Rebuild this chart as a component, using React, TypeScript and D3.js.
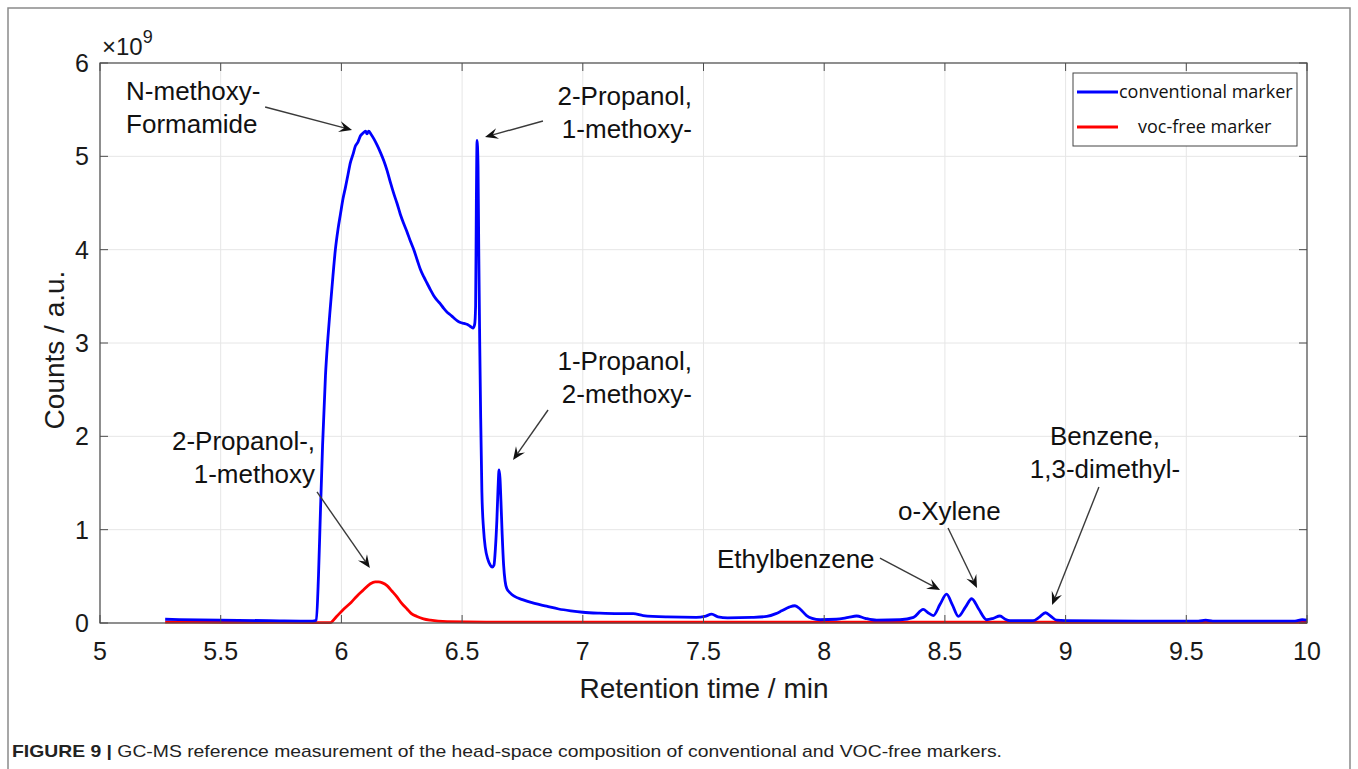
import React from "react";
import * as d3 from "d3";

// retention time (min) and counts (x1e9)
const conventionalTime = [
  5.27, 5.5, 5.7, 5.88, 5.896, 5.905, 5.913, 5.922, 5.934, 5.944, 5.954, 5.965, 5.975, 5.986, 5.996,
  6.007, 6.017, 6.027, 6.037, 6.048, 6.058, 6.068, 6.079, 6.09, 6.1, 6.106, 6.113, 6.122, 6.134, 6.148,
  6.162, 6.176, 6.189, 6.203, 6.217, 6.23, 6.244, 6.258, 6.272, 6.286, 6.3, 6.314, 6.327, 6.341, 6.355,
  6.369, 6.382, 6.396, 6.41, 6.424, 6.438, 6.452, 6.465, 6.479, 6.493, 6.507, 6.52, 6.533, 6.545, 6.552,
  6.556, 6.559, 6.562, 6.566, 6.569, 6.573, 6.577, 6.582, 6.589, 6.596, 6.607, 6.617, 6.625, 6.632, 6.638,
  6.644, 6.649, 6.653, 6.657, 6.661, 6.666, 6.672, 6.678, 6.685, 6.7, 6.714, 6.75, 6.8, 6.85, 6.9,
  6.95, 7.0, 7.07, 7.15, 7.209, 7.25, 7.35, 7.47, 7.505, 7.534, 7.56, 7.6, 7.7, 7.762, 7.8,
  7.824, 7.855, 7.879, 7.9, 7.927, 7.95, 7.983, 8.05, 8.1, 8.134, 8.17, 8.217, 8.314, 8.37, 8.41,
  8.43, 8.452, 8.48, 8.507, 8.53, 8.556, 8.585, 8.611, 8.64, 8.673, 8.7, 8.728, 8.75, 8.77, 8.865,
  8.89, 8.917, 8.94, 8.963, 9.0, 9.3, 9.55, 9.58, 9.61, 9.95, 9.98, 10.0,
];
const conventionalCounts = [
  0.04, 0.03, 0.025, 0.02, 0.03, 0.5, 1.18, 1.9, 2.65, 3.05, 3.38, 3.72, 4.0, 4.22, 4.38,
  4.55, 4.67, 4.8, 4.93, 5.02, 5.11, 5.15, 5.22, 5.25, 5.27, 5.24, 5.27, 5.24, 5.19, 5.12,
  5.04, 4.95, 4.85, 4.72, 4.6, 4.5, 4.38, 4.28, 4.19, 4.09, 4.0, 3.89, 3.79, 3.71, 3.64,
  3.57, 3.51, 3.46, 3.42, 3.37, 3.33, 3.3, 3.27, 3.24, 3.22, 3.21, 3.2, 3.18, 3.16, 3.2,
  3.4, 4.5, 5.17, 4.9, 4.0, 3.0, 2.2, 1.4, 1.0, 0.81, 0.68, 0.62, 0.6, 0.62, 0.8,
  1.1, 1.45, 1.64, 1.55, 1.3, 0.95, 0.62, 0.45, 0.37, 0.32, 0.29, 0.25, 0.21, 0.18, 0.15,
  0.13, 0.115, 0.105, 0.1, 0.1, 0.08, 0.065, 0.06, 0.07, 0.095, 0.065, 0.055, 0.06, 0.07, 0.1,
  0.13, 0.17, 0.185, 0.15, 0.08, 0.05, 0.035, 0.04, 0.06, 0.075, 0.05, 0.03, 0.035, 0.06, 0.145,
  0.11, 0.08, 0.2, 0.31, 0.2, 0.07, 0.17, 0.26, 0.15, 0.035, 0.05, 0.075, 0.04, 0.025, 0.025,
  0.06, 0.11, 0.07, 0.03, 0.025, 0.02, 0.02, 0.03, 0.02, 0.02, 0.035, 0.03,
];

const vocFreeTime = [
  5.27, 5.5, 5.9, 5.954, 5.98, 6.01, 6.04, 6.065, 6.09, 6.12, 6.14, 6.154, 6.17, 6.189, 6.21,
  6.23, 6.25, 6.272, 6.29, 6.313, 6.34, 6.369, 6.438, 6.6, 7.0, 8.0, 9.0, 10.0,
];
const vocFreeCounts = [
  0.01, 0.008, 0.005, 0.005, 0.07, 0.15, 0.22, 0.29, 0.35, 0.42, 0.44, 0.44, 0.43, 0.4, 0.34,
  0.28, 0.21, 0.15, 0.1, 0.07, 0.045, 0.03, 0.015, 0.01, 0.01, 0.01, 0.008, 0.008,
];

const xTicks = [5, 5.5, 6, 6.5, 7, 7.5, 8, 8.5, 9, 9.5, 10];
const yTicks = [0, 1, 2, 3, 4, 5, 6];
const seriesNames = ["conventional marker", "voc-free marker"];
const seriesColors = ["#0000ff", "#ff0000"];

// peak labels: text anchor and arrow tail/head in data units
const notes = [
  { lines: ["N-methoxy-", "Formamide"], anchor: "start", tx: 5.108, ty: 5.6, ax: 5.684, ay: 5.529, hx: 6.044, hy: 5.282 },
  { lines: ["2-Propanol,", "1-methoxy-"], anchor: "end", tx: 7.452, ty: 5.55, ax: 6.835, ay: 5.379, hx: 6.595, hy: 5.207 },
  { lines: ["1-Propanol,", "2-methoxy-"], anchor: "end", tx: 7.452, ty: 2.711, ax: 6.856, ay: 2.282, hx: 6.711, hy: 1.746 },
  { lines: ["2-Propanol-,", "1-methoxy"], anchor: "end", tx: 5.891, ty: 1.854, ax: 5.899, ay: 1.404, hx: 6.118, hy: 0.589 },
  { lines: ["Ethylbenzene"], anchor: "start", tx: 7.556, ty: 0.589, ax: 8.231, ay: 0.696, hx: 8.48, hy: 0.354 },
  { lines: ["o-Xylene"], anchor: "start", tx: 8.306, ty: 1.104, ax: 8.513, ay: 1.018, hx: 8.633, hy: 0.375 },
  { lines: ["Benzene,", "1,3-dimethyl-"], anchor: "middle", tx: 9.163, ty: 1.907, ax: 9.138, ay: 1.457, hx: 8.944, hy: 0.193 },
];

const font = "'Liberation Sans', Arial, Helvetica, sans-serif";

function arrowHead(x1: number, y1: number, x2: number, y2: number) {
  const dx = x2 - x1, dy = y2 - y1;
  const len = Math.hypot(dx, dy);
  const ux = dx / len, uy = dy / len;
  const nx = -uy, ny = ux;
  const L = 13, W = 5.5;
  const bx = x2 - ux * L, by = y2 - uy * L;
  const notchX = x2 - ux * L * 0.62, notchY = y2 - uy * L * 0.62;
  return {
    path: `M${x2},${y2}L${bx + nx * W},${by + ny * W}L${notchX},${notchY}L${bx - nx * W},${by - ny * W}Z`,
    nx: notchX,
    ny: notchY,
  };
}

export default function App() {
  const left = 100, right = 1307, top = 63, bottom = 623;
  const x = d3.scaleLinear().domain([5, 10]).range([left, right]);
  const y = d3.scaleLinear().domain([0, 6]).range([bottom, top]);

  const makePath = (xs: number[], ys: number[]) =>
    d3
      .line<[number, number]>()
      .x((d) => x(d[0]))
      .y((d) => y(d[1]))
      .curve(d3.curveMonotoneX)(xs.map((t, i) => [t, ys[i]] as [number, number])) || "";

  const bluePath = makePath(conventionalTime, conventionalCounts);
  const redPath = makePath(vocFreeTime, vocFreeCounts);

  const axisColor = "#4d4d4d";
  const tick = 8;

  return (
    <div>
      <style>{"body{margin:0}"}</style>
      <svg width={1358} height={769} style={{ display: "block", background: "#fff" }} fontFamily={font}>
        <rect x={8} y={8} width={1342} height={790} fill="none" stroke="#8a8a8a" strokeWidth={1.5} />

        {/* grid */}
        {xTicks.map((t) => (
          <line key={"gx" + t} x1={x(t)} x2={x(t)} y1={top} y2={bottom} stroke="#e6e6e6" strokeWidth={1} />
        ))}
        {yTicks.map((t) => (
          <line key={"gy" + t} x1={left} x2={right} y1={y(t)} y2={y(t)} stroke="#e6e6e6" strokeWidth={1} />
        ))}

        {/* series */}
        <path d={redPath} fill="none" stroke={seriesColors[1]} strokeWidth={2.8} strokeLinejoin="round" />
        <path d={bluePath} fill="none" stroke={seriesColors[0]} strokeWidth={2.8} strokeLinejoin="round" />

        {/* box and ticks */}
        <rect x={left} y={top} width={right - left} height={bottom - top} fill="none" stroke={axisColor} strokeWidth={1.2} />
        {xTicks.map((t) => (
          <g key={"tx" + t}>
            <line x1={x(t)} x2={x(t)} y1={bottom} y2={bottom - tick} stroke={axisColor} />
            <line x1={x(t)} x2={x(t)} y1={top} y2={top + tick} stroke={axisColor} />
            <text x={x(t)} y={bottom + 37} textAnchor="middle" fontSize={25} fill="#1a1a1a">
              {d3.format("~g")(t)}
            </text>
          </g>
        ))}
        {yTicks.map((t) => (
          <g key={"ty" + t}>
            <line x1={left} x2={left + tick} y1={y(t)} y2={y(t)} stroke={axisColor} />
            <line x1={right} x2={right - tick} y1={y(t)} y2={y(t)} stroke={axisColor} />
            <text x={left - 11} y={y(t) + 9} textAnchor="end" fontSize={25} fill="#1a1a1a">
              {t}
            </text>
          </g>
        ))}
        <text x={left + 2} y={top - 8} fontSize={24} fill="#1a1a1a">
          ×10
          <tspan dy={-12} fontSize={18}>9</tspan>
        </text>

        {/* axis titles */}
        <text x={704} y={698} textAnchor="middle" fontSize={28} fill="#1a1a1a">
          Retention time / min
        </text>
        <text transform={`translate(64,350) rotate(-90)`} textAnchor="middle" fontSize={28} fill="#1a1a1a">
          Counts / a.u.
        </text>

        {/* annotations */}
        {notes.map((n, i) => {
          const head = arrowHead(x(n.ax), y(n.ay), x(n.hx), y(n.hy));
          return (
            <g key={"n" + i}>
              {n.lines.map((s, j) => (
                <text key={j} x={x(n.tx)} y={y(n.ty) + j * 33} textAnchor={n.anchor} fontSize={26} fill="#111">
                  {s}
                </text>
              ))}
              <line x1={x(n.ax)} y1={y(n.ay)} x2={head.nx} y2={head.ny} stroke="#3a3a3a" strokeWidth={1.4} />
              <path d={head.path} fill="#111" />
            </g>
          );
        })}

        {/* legend */}
        <rect x={1073} y={73} width={224} height={73} fill="#fff" stroke="#444" strokeWidth={1} />
        {seriesNames.map((s, i) => (
          <g key={s}>
            <line x1={1077} x2={1118} y1={92 + i * 35} y2={92 + i * 35} stroke={seriesColors[i]} strokeWidth={2.8} />
            <text x={i === 0 ? 1119 : 1138} y={98 + i * 35} fontSize={18} fill="#111" fontFamily="'Open Sans', sans-serif">
              {s}
            </text>
          </g>
        ))}

        {/* caption */}
        <text x={12} y={757} fontSize={17} fill="#222" textLength={990} lengthAdjust="spacingAndGlyphs">
          <tspan fontWeight="bold">FIGURE 9 | </tspan>
          GC-MS reference measurement of the head-space composition of conventional and VOC-free markers.
        </text>
      </svg>
    </div>
  );
}
